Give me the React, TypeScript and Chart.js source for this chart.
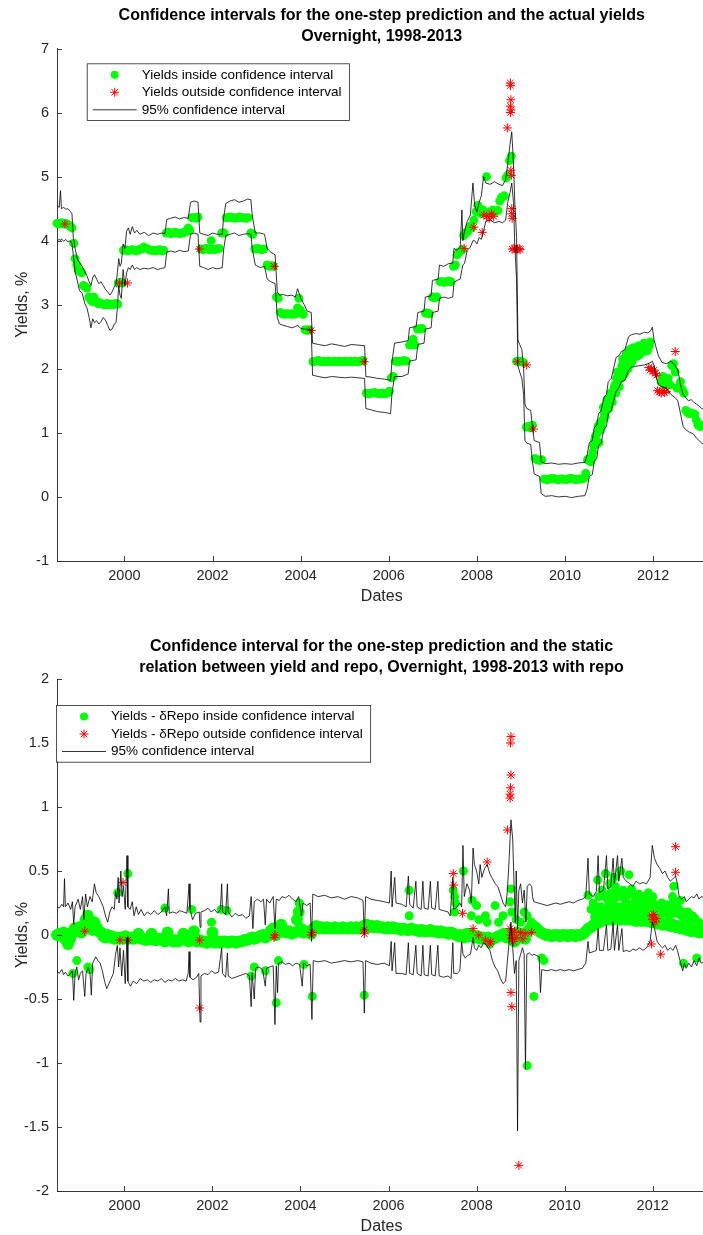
import { useEffect, useRef } from 'react';
import { Chart, registerables } from 'chart.js';

Chart.register(...registerables);

const FONT = '"Liberation Sans", Arial, Helvetica, sans-serif';
const AXIS_COLOR = '#262626';

const X_MIN = 1998.47;
const X_MAX = 2013.21;
const X_TICKS = [2000, 2002, 2004, 2006, 2008, 2010, 2012];
const TOP_Y_TICKS = [-1, 0, 1, 2, 3, 4, 5, 6, 7];
const BOT_Y_TICKS = [-2, -1.5, -1, -0.5, 0, 0.5, 1, 1.5, 2];

const TOP_TITLE = [
  'Confidence intervals for the one-step prediction and the actual yields',
  'Overnight, 1998-2013',
];
const BOT_TITLE = [
  'Confidence interval for the one-step prediction and the static',
  'relation between yield and repo, Overnight, 1998-2013 with repo',
];
const TOP_LEGEND = [
  'Yields inside confidence interval',
  'Yields outside confidence interval',
  '95% confidence interval',
];
const BOT_LEGEND = [
  'Yields - \u03b4Repo inside confidence interval',
  'Yields - \u03b4Repo outside confidence interval',
  '95% confidence interval',
];
const X_LABEL = 'Dates';
const Y_LABEL = 'Yields, %';

// ---------------- Top chart data ----------------
const TOP_INSIDE: number[][] = [
  [1998.47,4.27],[1998.52,4.26],[1998.57,4.28],[1998.62,4.26],[1998.67,4.27],[1998.72,4.25],[1998.77,4.23],[1998.81,4.2],
  [1998.85,3.96],[1998.88,3.72],[1998.92,3.62],[1998.95,3.54],[1998.99,3.52],[1999.03,3.5],[1999.07,3.3],[1999.11,3.28],
  [1999.15,3.26],[1999.19,3.12],[1999.23,3.08],[1999.27,3.05],[1999.31,3.12],[1999.35,3.06],[1999.4,3.02],[1999.45,3.03],
  [1999.5,3.01],[1999.55,3.0],[1999.6,3.02],[1999.65,3.0],[1999.7,3.01],[1999.75,3.0],[1999.8,3.02],[1999.85,3.01],
  [1999.86,3.34],[1999.91,3.35],[1999.95,3.34],
  [1999.98,3.85],[2000.03,3.86],[2000.08,3.84],[2000.13,3.85],[2000.18,3.86],[2000.23,3.85],[2000.28,3.84],[2000.33,3.86],
  [2000.38,3.87],[2000.44,3.9],[2000.5,3.88],[2000.55,3.86],[2000.6,3.85],[2000.65,3.85],[2000.7,3.84],[2000.75,3.85],
  [2000.8,3.86],[2000.85,3.84],[2000.89,3.85],
  [2000.95,4.12],[2001.0,4.13],[2001.05,4.11],[2001.1,4.12],[2001.15,4.13],[2001.2,4.12],[2001.25,4.11],[2001.3,4.12],
  [2001.35,4.13],[2001.4,4.14],[2001.45,4.2],[2001.48,4.16],
  [2001.53,4.36],[2001.58,4.36],[2001.63,4.35],[2001.67,4.37],
  [2001.74,3.87],[2001.79,3.86],[2001.84,3.88],[2001.89,3.87],[2001.94,3.86],[2001.97,4.0],[2002.0,3.87],[2002.05,3.86],
  [2002.1,3.87],[2002.15,3.88],
  [2002.21,4.12],[2002.26,4.12],
  [2002.31,4.36],[2002.36,4.36],[2002.41,4.37],[2002.46,4.36],[2002.51,4.35],[2002.56,4.36],[2002.61,4.37],[2002.66,4.36],
  [2002.71,4.36],[2002.76,4.35],[2002.81,4.36],
  [2002.87,4.12],[2002.91,4.1],
  [2002.96,3.87],[2003.01,3.88],[2003.06,3.87],[2003.11,3.86],[2003.16,3.87],
  [2003.24,3.62],[2003.29,3.6],[2003.34,3.61],[2003.38,3.6],
  [2003.45,3.12],[2003.49,3.1],
  [2003.54,2.88],[2003.59,2.86],[2003.64,2.85],[2003.69,2.86],[2003.74,2.85],[2003.79,2.86],[2003.84,2.85],[2003.89,2.86],
  [2003.93,2.95],[2003.96,3.1],[2003.99,2.92],[2004.03,2.86],[2004.06,2.85],
  [2004.1,2.61],[2004.15,2.6],[2004.19,2.61],
  [2004.28,2.11],[2004.34,2.12],[2004.4,2.13],[2004.46,2.11],[2004.52,2.12],[2004.58,2.11],[2004.64,2.12],[2004.7,2.11],
  [2004.76,2.12],[2004.82,2.11],[2004.88,2.12],[2004.94,2.11],[2005.0,2.12],[2005.06,2.11],[2005.12,2.12],[2005.18,2.11],
  [2005.24,2.12],[2005.3,2.11],[2005.36,2.12],[2005.41,2.13],
  [2005.49,1.62],[2005.55,1.61],[2005.61,1.62],[2005.67,1.63],[2005.73,1.62],[2005.79,1.61],[2005.85,1.62],[2005.91,1.61],
  [2005.97,1.62],[2006.01,1.65],
  [2006.06,1.86],[2006.1,1.88],
  [2006.15,2.12],[2006.2,2.11],[2006.25,2.12],[2006.3,2.12],[2006.35,2.13],[2006.4,2.12],
  [2006.47,2.37],[2006.51,2.38],[2006.55,2.46],[2006.59,2.37],
  [2006.65,2.62],[2006.7,2.62],[2006.75,2.63],
  [2006.83,2.87],[2006.88,2.87],[2006.92,2.86],
  [2006.99,3.12],[2007.04,3.11],[2007.09,3.12],
  [2007.16,3.36],[2007.21,3.36],[2007.26,3.35],[2007.31,3.36],[2007.36,3.37],[2007.41,3.36],
  [2007.47,3.6],[2007.51,3.62],[2007.55,3.78],[2007.59,3.82],[2007.63,3.84],[2007.67,3.86],[2007.7,4.08],[2007.74,4.12],
  [2007.79,4.14],[2007.84,4.22],[2007.88,4.2],[2007.93,4.32],[2007.98,4.45],[2008.02,4.55],[2008.06,4.5],[2008.1,4.42],
  [2008.14,4.48],[2008.22,5.0],[2008.3,4.45],[2008.36,4.48],[2008.42,4.45],[2008.48,4.47],[2008.52,4.62],[2008.56,4.68],
  [2008.62,4.7],[2008.66,4.98],[2008.7,5.02],[2008.74,5.25],[2008.78,5.32],
  [2008.9,2.12],[2008.95,2.11],[2009.0,2.12],[2009.05,2.1],
  [2009.12,1.09],[2009.17,1.1],[2009.22,1.08],[2009.26,1.12],
  [2009.32,0.6],[2009.37,0.58],[2009.42,0.57],[2009.47,0.58],
  [2009.53,0.28],[2009.59,0.27],[2009.65,0.28],[2009.71,0.29],[2009.77,0.28],[2009.83,0.27],[2009.89,0.28],[2009.95,0.28],
  [2010.01,0.27],[2010.07,0.28],[2010.13,0.29],[2010.19,0.28],[2010.25,0.27],[2010.31,0.28],[2010.37,0.28],[2010.43,0.29],
  [2010.47,0.37],[2010.51,0.58],[2010.56,0.6],[2010.61,0.62],[2010.65,0.8],[2010.69,0.95],[2010.73,1.0],[2010.77,0.85],
  [2010.81,1.05],[2010.85,1.2],[2010.89,1.3],[2010.93,1.35],[2010.97,1.45],[2011.01,1.5],[2011.05,1.55],[2011.09,1.62],
  [2011.13,1.75],[2011.17,1.85],[2011.21,1.82],[2011.25,1.95],[2011.29,2.05],[2011.33,2.0],[2011.37,2.1],[2011.41,2.15],
  [2011.45,2.08],[2011.49,2.2],[2011.53,2.25],[2011.57,2.18],[2011.61,2.3],[2011.65,2.28],[2011.69,2.22],[2011.73,2.33],
  [2011.77,2.35],[2011.81,2.3],[2011.85,2.32],[2011.89,2.38],[2011.93,2.42],
  [2010.58,0.55],[2010.63,0.7],[2010.67,0.88],[2010.71,0.82],[2010.75,1.1],[2010.79,1.15],[2010.83,1.1],[2010.87,1.4],
  [2010.91,1.25],[2010.95,1.52],[2010.99,1.38],[2011.03,1.62],[2011.07,1.48],[2011.11,1.7],[2011.15,1.62],[2011.19,1.95],
  [2011.23,1.72],[2011.27,1.86],[2011.31,2.15],[2011.35,1.92],[2011.39,2.24],[2011.43,2.0],[2011.47,2.3],[2011.51,2.1],
  [2011.55,2.33],[2011.59,2.24],[2011.63,2.2],[2011.67,2.36],[2011.71,2.3],[2011.75,2.26],[2011.79,2.4],[2011.83,2.38],
  [2011.87,2.28],[2011.91,2.36],
  [2012.18,1.8],[2012.22,1.88],[2012.26,1.75],[2012.3,1.8],[2012.34,1.85],[2012.38,1.75],[2012.42,2.05],[2012.46,2.08],
  [2012.5,1.95],[2012.54,1.7],[2012.58,1.72],[2012.62,1.8],[2012.66,1.68],[2012.7,1.62],[2012.74,1.35],[2012.78,1.32],
  [2012.82,1.3],[2012.86,1.31],[2012.9,1.3],[2012.94,1.29],[2012.98,1.2],[2013.02,1.12],[2013.06,1.1],[2013.1,1.12],
];

const TOP_OUTSIDE: number[][] = [
  [1998.65,4.26],[1999.89,3.34],[2000.07,3.34],[2001.7,3.87],[2003.4,3.6],[2004.24,2.6],[2005.44,2.11],
  [2007.71,3.88],[2007.93,4.21],[2008.12,4.13],[2008.16,4.4],[2008.22,4.38],[2008.28,4.35],[2008.33,4.42],[2008.38,4.38],
  [2008.69,5.76],[2008.76,6.46],[2008.76,6.42],[2008.77,6.2],[2008.76,6.1],[2008.77,6.04],[2008.76,6.0],[2008.77,5.1],
  [2008.78,5.02],[2008.79,4.5],[2008.79,4.42],[2008.8,4.35],[2008.8,3.87],[2008.84,3.88],[2008.88,3.86],[2008.92,3.87],
  [2008.96,3.88],[2008.98,3.86],[2008.92,2.11],[2009.13,2.06],[2009.28,1.06],
  [2011.9,2.02],[2011.93,1.98],[2011.96,2.0],[2011.99,1.96],[2012.02,1.98],[2012.05,1.93],[2012.08,1.9],[2012.1,1.66],
  [2012.14,1.64],[2012.18,1.62],[2012.22,1.66],[2012.26,1.63],[2012.3,1.65],[2012.5,2.27],
];

// [date, upper bound, lower bound]
const TOP_CI: number[][] = [
  [1998.47,4.55,4.0],[1998.52,4.52,4.02],[1998.55,4.78,4.0],[1998.57,4.5,4.03],[1998.62,4.52,3.99],[1998.67,4.49,4.02],
  [1998.72,4.5,3.98],[1998.77,4.46,4.0],[1998.81,4.42,3.95],[1998.84,4.05,3.78],[1998.88,3.88,3.52],[1998.93,3.72,3.38],
  [1998.98,3.66,3.22],[1999.04,3.6,3.18],[1999.1,3.52,3.02],[1999.15,3.45,2.95],[1999.2,3.36,2.8],[1999.24,3.3,2.64],
  [1999.28,3.42,2.78],[1999.32,3.47,2.72],[1999.37,3.4,2.75],[1999.42,3.33,2.7],[1999.47,3.36,2.74],[1999.52,3.3,2.8],
  [1999.57,3.24,2.76],[1999.62,3.2,2.68],[1999.67,3.15,2.6],[1999.72,3.2,2.62],[1999.77,3.28,2.7],[1999.81,3.32,2.72],
  [1999.84,3.5,2.95],[1999.87,3.72,3.3],[1999.9,3.6,3.15],[1999.93,3.65,3.1],[1999.97,3.95,3.55],[2000.01,3.88,3.3],
  [2000.05,4.15,3.5],[2000.09,4.2,3.58],[2000.13,4.1,3.55],[2000.18,4.22,3.62],[2000.23,4.12,3.55],[2000.28,4.16,3.58],
  [2000.35,4.1,3.55],[2000.45,4.13,3.57],[2000.55,4.08,3.56],[2000.65,4.12,3.58],[2000.75,4.1,3.55],[2000.85,4.12,3.57],
  [2000.92,4.11,3.58],[2000.96,4.33,3.82],[2001.05,4.35,3.84],[2001.15,4.37,3.82],[2001.25,4.34,3.85],[2001.35,4.36,3.83],
  [2001.45,4.35,3.84],[2001.5,4.6,4.1],[2001.58,4.62,4.12],[2001.67,4.6,4.1],[2001.71,4.12,3.6],[2001.8,4.1,3.58],
  [2001.9,4.08,3.55],[2002.0,4.12,3.58],[2002.1,4.1,3.56],[2002.22,4.1,3.58],[2002.25,4.35,3.85],[2002.3,4.58,4.08],
  [2002.4,4.62,4.1],[2002.5,4.64,4.12],[2002.6,4.6,4.08],[2002.7,4.62,4.1],[2002.8,4.65,4.11],[2002.87,4.64,4.1],
  [2002.9,4.4,3.88],[2002.97,4.12,3.62],[2003.08,4.12,3.58],[2003.18,4.1,3.6],[2003.24,3.88,3.4],[2003.32,3.82,3.36],
  [2003.42,3.78,3.33],[2003.47,3.2,2.8],[2003.52,3.15,2.7],[2003.6,3.16,2.68],[2003.7,3.14,2.66],[2003.8,3.15,2.64],
  [2003.88,3.12,2.66],[2003.93,3.25,2.68],[2004.0,3.1,2.63],[2004.08,3.0,2.62],[2004.15,2.9,2.62],[2004.24,2.88,2.6],
  [2004.27,2.4,1.9],[2004.4,2.38,1.88],[2004.55,2.36,1.86],[2004.7,2.39,1.88],[2004.85,2.37,1.87],[2005.0,2.35,1.86],
  [2005.15,2.38,1.87],[2005.3,2.37,1.86],[2005.45,2.36,1.85],[2005.48,1.88,1.38],[2005.6,1.87,1.36],[2005.75,1.85,1.33],
  [2005.9,1.84,1.32],[2006.04,1.82,1.3],[2006.07,2.1,1.6],[2006.13,2.4,1.88],[2006.3,2.42,1.88],[2006.44,2.44,1.92],
  [2006.47,2.64,2.12],[2006.62,2.66,2.14],[2006.66,2.88,2.38],[2006.8,2.9,2.4],[2006.83,3.12,2.62],[2006.96,3.14,2.64],
  [2006.99,3.38,2.88],[2007.12,3.4,2.9],[2007.15,3.62,3.1],[2007.25,3.6,3.12],[2007.35,3.64,3.1],[2007.45,3.65,3.12],
  [2007.48,3.88,3.35],[2007.55,3.85,3.38],[2007.62,3.9,3.4],[2007.66,4.48,3.55],[2007.68,4.0,3.62],[2007.72,4.15,3.65],
  [2007.78,4.3,3.85],[2007.85,4.4,3.9],[2007.91,4.9,4.0],[2007.95,4.55,4.0],[2008.0,4.45,3.95],[2008.05,4.6,4.05],
  [2008.1,4.7,4.02],[2008.15,5.0,4.15],[2008.2,4.9,4.3],[2008.3,4.88,4.32],[2008.4,4.92,4.28],[2008.5,4.88,4.3],
  [2008.58,4.86,4.28],[2008.65,4.95,4.32],[2008.7,5.2,4.6],[2008.75,5.5,4.75],[2008.79,5.7,4.9],[2008.83,5.2,4.6],
  [2008.86,4.6,3.9],[2008.9,4.05,3.4],[2008.93,2.45,2.05],[2008.97,2.38,1.95],[2009.02,2.3,1.85],[2009.06,2.0,1.6],
  [2009.09,1.45,0.88],[2009.13,1.38,0.84],[2009.22,1.35,0.82],[2009.26,1.1,0.55],[2009.3,0.88,0.36],[2009.42,0.85,0.32],
  [2009.46,0.55,0.05],[2009.55,0.52,0.01],[2009.7,0.53,0.02],[2009.85,0.51,0.0],[2010.0,0.52,0.01],[2010.15,0.51,-0.01],
  [2010.3,0.53,0.01],[2010.45,0.54,0.02],[2010.5,0.65,0.12],[2010.55,0.85,0.32],[2010.62,0.88,0.35],[2010.66,1.08,0.55],
  [2010.72,1.12,0.6],[2010.76,1.3,0.8],[2010.82,1.35,0.85],[2010.88,1.55,1.05],[2010.94,1.6,1.1],[2010.98,1.8,1.3],
  [2011.05,1.85,1.35],[2011.1,2.0,1.5],[2011.16,2.18,1.65],[2011.22,2.2,1.7],[2011.28,2.27,1.8],[2011.36,2.3,1.82],
  [2011.44,2.5,1.98],[2011.5,2.53,2.02],[2011.6,2.55,2.04],[2011.7,2.54,2.05],[2011.8,2.57,2.06],[2011.88,2.56,2.08],
  [2011.95,2.6,2.1],[2011.98,2.65,2.12],[2012.02,2.45,2.05],[2012.06,2.35,1.9],[2012.12,2.2,1.75],[2012.2,2.1,1.72],
  [2012.3,2.08,1.7],[2012.4,2.12,1.6],[2012.5,2.05,1.55],[2012.56,1.98,1.5],[2012.62,1.75,1.3],[2012.68,1.6,1.1],
  [2012.74,1.55,1.05],[2012.8,1.5,1.02],[2012.86,1.52,1.0],[2012.92,1.48,0.98],[2012.98,1.45,0.92],[2013.04,1.42,0.88],
  [2013.1,1.38,0.84],[2013.21,1.35,0.8],
];

// ---------------- Bottom chart data ----------------
const BOT_INSIDE_BAND: number[][] = [
  [1998.47,0.0],[1998.52,0.01],[1998.57,-0.01],[1998.62,0.02],[1998.67,-0.04],[1998.72,-0.07],[1998.77,-0.03],[1998.82,0.02],
  [1998.87,0.05],[1998.92,0.03],[1998.97,0.06],[1999.02,0.02],[1999.07,0.05],[1999.12,0.12],[1999.17,0.15],[1999.22,0.08],
  [1999.27,0.04],[1999.32,0.1],[1999.37,0.06],[1999.42,0.03],[1999.47,0.02],[1999.52,-0.01],[1999.57,-0.02],[1999.62,0.0],
  [1999.67,-0.02],[1999.72,-0.01],[1999.77,-0.03],[1999.82,-0.02],[1999.87,-0.03],[1999.92,-0.02],[1999.97,-0.03],[2000.02,-0.01],
  [2000.08,-0.03],[2000.14,-0.02],[2000.2,-0.03],[2000.26,-0.02],[2000.32,0.01],[2000.38,-0.03],[2000.44,-0.03],[2000.5,-0.04],
  [2000.56,-0.03],[2000.62,0.01],[2000.68,-0.04],[2000.74,-0.04],[2000.8,-0.03],[2000.86,-0.04],[2000.92,-0.05],[2000.98,0.02],
  [2001.04,-0.04],[2001.1,-0.05],[2001.16,-0.04],[2001.22,-0.05],[2001.28,-0.04],[2001.34,0.01],[2001.4,-0.04],[2001.46,-0.05],
  [2001.52,-0.04],[2001.58,0.03],[2001.64,-0.05],[2001.7,-0.04],[2001.76,-0.05],[2001.82,-0.05],[2001.88,-0.06],[2001.94,-0.05],
  [2002.0,0.02],[2002.06,-0.06],[2002.12,-0.05],[2002.18,-0.06],[2002.24,-0.05],[2002.3,-0.05],[2002.36,-0.06],[2002.42,-0.05],
  [2002.48,-0.05],[2002.54,-0.06],[2002.6,-0.05],[2002.66,-0.05],[2002.72,-0.04],[2002.78,-0.04],[2002.84,-0.03],[2002.9,-0.02],
  [2002.96,-0.03],[2003.02,-0.02],[2003.08,-0.01],[2003.14,0.0],[2003.2,-0.02],[2003.26,0.0],[2003.32,0.03],[2003.38,0.05],
  [2003.44,0.0],[2003.5,0.02],[2003.56,0.08],[2003.62,0.04],[2003.68,0.02],[2003.74,0.03],[2003.8,0.01],[2003.86,0.02],
  [2003.92,0.12],[2003.96,0.18],[2004.0,0.05],[2004.06,0.02],[2004.12,0.03],[2004.18,0.02],[2004.24,0.01],[2004.3,0.05],
  [2004.36,0.07],[2004.42,0.05],[2004.48,0.06],[2004.54,0.05],[2004.6,0.06],[2004.66,0.05],[2004.72,0.05],[2004.78,0.06],
  [2004.84,0.05],[2004.9,0.05],[2004.96,0.06],[2005.02,0.05],[2005.08,0.05],[2005.14,0.06],[2005.2,0.05],[2005.26,0.06],
  [2005.32,0.05],[2005.38,0.06],[2005.44,0.07],[2005.5,0.08],[2005.56,0.06],[2005.62,0.07],[2005.68,0.06],[2005.74,0.07],
  [2005.8,0.06],[2005.86,0.06],[2005.92,0.05],[2005.98,0.06],[2006.04,0.05],[2006.1,0.06],[2006.16,0.05],[2006.22,0.05],
  [2006.28,0.04],[2006.34,0.05],[2006.4,0.04],[2006.46,0.04],[2006.52,0.05],[2006.58,0.04],[2006.64,0.04],[2006.7,0.03],
  [2006.76,0.04],[2006.82,0.03],[2006.88,0.03],[2006.94,0.04],[2007.0,0.03],[2007.06,0.03],[2007.12,0.02],[2007.18,0.03],
  [2007.24,0.02],[2007.3,0.02],[2007.36,0.01],[2007.42,0.02],[2007.48,0.01],[2007.54,0.0],[2007.6,-0.01],[2007.66,0.0],
  [2007.72,-0.02],[2007.78,0.01],[2007.84,-0.01],[2007.9,0.0],[2007.96,-0.02],[2008.02,-0.01],[2008.08,-0.03],[2008.14,-0.02],
  [2008.2,-0.03],[2008.26,-0.02],[2008.32,-0.04],[2008.38,-0.03],[2008.44,-0.02],[2008.5,-0.01],[2008.56,0.0],[2008.62,0.01],
  [2008.68,-0.02],[2008.74,0.0],[2008.8,-0.03],[2008.86,-0.05],[2008.92,0.02],[2008.98,-0.02],[2009.04,0.01],[2009.1,-0.03],
  [2009.16,0.03],[2009.22,0.05],[2009.28,0.07],[2009.34,0.06],[2009.4,0.04],[2009.46,0.02],[2009.52,0.01],[2009.58,0.0],
  [2009.64,0.0],[2009.7,-0.01],[2009.76,0.0],[2009.82,0.0],[2009.88,-0.01],[2009.94,0.0],[2010.0,0.0],[2010.06,-0.01],
  [2010.12,0.0],[2010.18,0.0],[2010.24,-0.01],[2010.3,0.0],[2010.36,0.0],[2010.42,0.01],[2010.48,0.03],[2010.54,0.05],
  [2010.6,0.06],[2010.66,0.08],[2010.72,0.09],[2010.78,0.1],[2010.84,0.11],[2010.9,0.12],[2010.96,0.12],[2011.02,0.13],
  [2011.08,0.12],[2011.14,0.14],[2011.2,0.13],[2011.26,0.12],[2011.32,0.14],[2011.38,0.12],[2011.44,0.13],[2011.5,0.12],
  [2011.56,0.13],[2011.62,0.11],[2011.68,0.12],[2011.74,0.11],[2011.8,0.12],[2011.86,0.11],[2011.92,0.12],[2011.98,0.1],
  [2012.04,0.1],[2012.1,0.09],[2012.16,0.1],[2012.22,0.08],[2012.28,0.09],[2012.34,0.08],[2012.4,0.07],[2012.46,0.08],
  [2012.52,0.06],[2012.58,0.07],[2012.64,0.05],[2012.7,0.06],[2012.76,0.04],[2012.82,0.05],[2012.88,0.03],[2012.94,0.04],
  [2013.0,0.03],[2013.06,0.02],[2013.12,0.03],[2013.18,0.02],
];

const BOT_INSIDE_SCATTER: number[][] = [
  [1998.83,-0.3],[1998.92,-0.2],[1999.17,-0.25],[1999.21,-0.27],[1999.85,0.33],[2000.08,0.48],[2000.92,0.21],[2001.53,0.2],
  [2001.98,0.1],[2002.2,0.2],[2002.33,0.19],[2002.88,-0.32],[2002.95,-0.25],[2003.2,-0.28],[2003.45,-0.53],[2003.5,-0.2],
  [2003.97,0.25],[2004.08,-0.23],[2004.27,-0.48],[2005.45,-0.47],
  [2006.47,0.35],[2006.47,0.15],[2007.47,0.35],[2007.5,0.3],[2007.52,0.25],[2007.5,0.18],[2007.7,0.5],[2007.9,0.27],
  [2007.88,0.15],[2008.0,0.23],[2008.05,0.12],[2008.2,0.15],[2008.24,0.1],[2008.42,0.23],[2008.5,0.1],[2008.6,0.15],
  [2008.76,0.26],[2008.78,0.36],[2008.8,0.18],[2008.9,0.12],[2009.0,0.1],[2009.08,0.18],[2009.15,0.15],[2009.25,0.1],
  [2008.3,-0.07],[2009.15,-1.02],[2009.3,-0.48],[2009.48,-0.18],[2009.53,-0.2],
  [2010.53,0.31],[2010.6,0.2],[2010.65,0.25],[2010.7,0.18],[2010.75,0.43],[2010.78,0.3],[2010.82,0.22],[2010.85,0.35],
  [2010.9,0.3],[2010.93,0.48],[2010.95,0.2],[2011.0,0.25],[2011.02,0.4],[2011.05,0.33],[2011.08,0.2],[2011.12,0.45],
  [2011.12,0.28],[2011.15,0.38],[2011.2,0.22],[2011.25,0.3],[2011.27,0.5],[2011.28,0.18],[2011.33,0.35],[2011.38,0.25],
  [2011.42,0.2],[2011.45,0.32],[2011.46,0.47],[2011.5,0.24],[2011.55,0.18],[2011.6,0.3],[2011.65,0.22],[2011.7,0.27],
  [2011.75,0.2],[2011.8,0.3],[2011.85,0.17],[2011.9,0.33],[2011.92,0.26],[2011.95,0.22],[2012.0,0.3],[2012.05,0.2],
  [2012.09,0.22],[2012.12,0.18],[2012.2,0.25],[2012.25,0.2],[2012.3,0.18],[2012.35,0.16],[2012.4,0.2],[2012.45,0.3],
  [2012.48,0.38],[2012.55,0.22],[2012.6,0.2],[2012.63,0.27],[2012.65,0.15],[2012.7,-0.22],[2012.75,0.12],[2012.8,0.18],
  [2012.85,0.1],[2012.9,0.15],[2012.96,0.13],[2013.0,-0.18],[2013.05,0.1],
  [2010.68,0.14],[2010.74,0.22],[2010.8,0.16],[2010.87,0.2],[2010.92,0.17],[2010.98,0.28],[2011.03,0.2],[2011.1,0.24],
  [2011.17,0.19],[2011.22,0.33],[2011.3,0.22],[2011.36,0.19],[2011.4,0.3],[2011.48,0.2],[2011.52,0.36],[2011.58,0.24],
  [2011.63,0.17],[2011.68,0.32],[2011.72,0.2],[2011.78,0.24],[2011.83,0.2],[2011.88,0.22],[2012.02,0.25],[2012.14,0.22],
  [2012.22,0.17],[2012.28,0.24],[2012.38,0.15],[2012.42,0.24],[2012.52,0.17],[2012.58,0.26],[2012.68,0.18],[2012.78,0.14],
];

const BOT_OUTSIDE: number[][] = [
  [1999.1,0.03],[1999.97,0.41],[1999.9,-0.04],[2000.08,-0.04],[2001.71,-0.04],[2001.71,-0.57],[2003.4,-0.02],[2003.42,0.0],
  [2004.25,0.0],[2004.27,0.02],[2005.45,0.01],[2005.45,0.04],[2007.47,0.48],[2007.48,0.39],[2007.68,0.17],[2007.92,0.05],
  [2008.05,0.0],[2008.24,0.57],[2008.2,-0.04],[2008.3,-0.07],[2008.32,-0.05],[2008.7,0.82],[2008.76,1.07],[2008.76,1.1],
  [2008.77,1.15],[2008.78,1.25],[2008.77,1.5],[2008.78,1.55],[2008.78,-0.45],[2008.8,-0.56],[2008.76,0.05],[2008.78,0.0],
  [2008.8,-0.03],[2008.82,0.02],[2008.84,-0.05],[2008.86,0.03],[2008.9,-0.02],[2008.96,-1.8],[2009.0,0.02],[2009.05,-0.03],
  [2009.1,0.01],[2009.25,0.02],[2011.97,-0.07],[2011.98,0.15],[2012.0,0.12],[2012.02,0.16],[2012.05,0.1],[2012.08,0.13],
  [2012.18,-0.15],[2012.52,0.69],[2012.52,0.49],
];

const BOT_UPPER: number[][] = [
  [1998.47,0.22],[1998.52,0.21],[1998.58,0.24],[1998.62,0.22],[1998.64,0.44],[1998.66,0.22],[1998.72,0.25],[1998.78,0.2],
  [1998.82,0.26],[1998.85,0.08],[1998.88,0.22],[1998.95,0.28],[1999.0,0.2],[1999.05,0.3],[1999.08,0.12],[1999.12,0.32],
  [1999.16,0.22],[1999.22,0.3],[1999.27,0.26],[1999.32,0.4],[1999.36,0.33],[1999.42,0.3],[1999.47,0.26],[1999.52,0.22],
  [1999.57,0.15],[1999.62,0.1],[1999.67,0.18],[1999.72,0.22],[1999.77,0.2],[1999.8,0.34],[1999.83,0.28],[1999.86,0.45],
  [1999.88,0.25],[1999.92,0.5],[1999.95,0.3],[1999.98,0.38],[2000.02,0.2],[2000.06,0.62],[2000.08,0.22],[2000.13,0.2],
  [2000.18,0.26],[2000.22,0.15],[2000.27,0.22],[2000.32,0.16],[2000.38,0.2],[2000.45,0.15],[2000.52,0.18],[2000.6,0.16],
  [2000.68,0.19],[2000.76,0.16],[2000.84,0.18],[2000.92,0.22],[2000.96,0.15],[2001.0,0.36],[2001.02,0.17],[2001.1,0.18],
  [2001.18,0.17],[2001.26,0.19],[2001.34,0.18],[2001.42,0.17],[2001.47,0.4],[2001.49,0.2],[2001.55,0.12],[2001.62,0.17],
  [2001.7,0.18],[2001.72,0.06],[2001.74,0.18],[2001.82,0.19],[2001.9,0.21],[2001.97,0.18],[2002.05,0.2],[2002.12,0.17],
  [2002.18,0.2],[2002.21,0.4],[2002.23,0.18],[2002.3,0.16],[2002.34,0.4],[2002.36,0.18],[2002.44,0.14],[2002.52,0.17],
  [2002.6,0.15],[2002.68,0.16],[2002.76,0.13],[2002.84,0.15],[2002.88,0.3],[2002.92,0.05],[2002.95,0.26],[2003.02,0.28],
  [2003.1,0.26],[2003.16,0.28],[2003.2,0.08],[2003.23,0.28],[2003.3,0.25],[2003.38,0.3],[2003.42,0.05],[2003.45,0.28],
  [2003.52,0.27],[2003.58,0.3],[2003.66,0.29],[2003.74,0.31],[2003.82,0.28],[2003.9,0.26],[2003.96,0.3],[2004.02,0.15],
  [2004.06,0.25],[2004.14,0.23],[2004.22,0.25],[2004.25,-0.05],[2004.28,0.32],[2004.4,0.3],[2004.55,0.31],[2004.7,0.29],
  [2004.85,0.3],[2005.0,0.28],[2005.15,0.3],[2005.3,0.29],[2005.42,0.27],[2005.45,0.0],[2005.48,0.3],[2005.6,0.28],
  [2005.75,0.27],[2005.9,0.26],[2006.02,0.25],[2006.06,0.5],[2006.08,0.22],[2006.14,0.45],[2006.17,0.25],[2006.3,0.24],
  [2006.4,0.22],[2006.45,0.46],[2006.48,0.24],[2006.56,0.21],[2006.62,0.42],[2006.65,0.22],[2006.74,0.2],[2006.78,0.42],
  [2006.81,0.21],[2006.9,0.2],[2006.95,0.42],[2006.98,0.21],[2007.06,0.2],[2007.12,0.42],[2007.15,0.2],[2007.25,0.19],
  [2007.35,0.18],[2007.4,0.15],[2007.46,0.45],[2007.48,0.2],[2007.56,0.22],[2007.62,0.25],[2007.66,0.22],[2007.69,0.7],
  [2007.72,0.3],[2007.78,0.4],[2007.84,0.35],[2007.88,0.25],[2007.92,0.68],[2007.95,0.55],[2008.0,0.5],[2008.05,0.4],
  [2008.08,0.55],[2008.12,0.45],[2008.18,0.52],[2008.24,0.55],[2008.3,0.48],[2008.36,0.44],[2008.42,0.4],[2008.48,0.38],
  [2008.54,0.32],[2008.6,0.25],[2008.66,0.22],[2008.7,0.35],[2008.74,0.6],[2008.78,0.9],[2008.82,0.75],[2008.85,0.4],
  [2008.88,0.1],[2008.9,0.5],[2008.93,0.05],[2008.96,0.35],[2009.0,0.4],[2009.04,0.25],[2009.08,0.35],[2009.12,0.1],
  [2009.15,0.38],[2009.2,0.4],[2009.25,0.38],[2009.27,0.3],[2009.3,0.26],[2009.4,0.25],[2009.5,0.24],[2009.6,0.23],
  [2009.7,0.24],[2009.8,0.25],[2009.9,0.24],[2010.0,0.25],[2010.1,0.26],[2010.2,0.25],[2010.3,0.27],[2010.4,0.28],
  [2010.48,0.3],[2010.53,0.6],[2010.56,0.32],[2010.65,0.3],[2010.72,0.34],[2010.76,0.62],[2010.79,0.33],[2010.88,0.35],
  [2010.95,0.62],[2010.98,0.36],[2011.05,0.38],[2011.1,0.6],[2011.13,0.4],[2011.2,0.62],[2011.23,0.42],[2011.3,0.6],
  [2011.33,0.45],[2011.4,0.42],[2011.48,0.4],[2011.55,0.38],[2011.62,0.42],[2011.7,0.4],[2011.78,0.41],[2011.86,0.4],
  [2011.94,0.45],[2011.99,0.7],[2012.04,0.6],[2012.1,0.55],[2012.16,0.52],[2012.22,0.48],[2012.28,0.5],[2012.34,0.45],
  [2012.4,0.42],[2012.46,0.44],[2012.52,0.46],[2012.56,0.4],[2012.6,0.3],[2012.66,0.28],[2012.72,0.3],[2012.76,0.26],
  [2012.82,0.28],[2012.88,0.3],[2012.94,0.29],[2013.0,0.32],[2013.05,0.28],[2013.1,0.3],[2013.21,0.29],
];

const BOT_LOWER: number[][] = [
  [1998.47,-0.28],[1998.52,-0.3],[1998.58,-0.27],[1998.62,-0.31],[1998.66,-0.29],[1998.72,-0.32],[1998.78,-0.3],[1998.82,-0.28],
  [1998.85,-0.51],[1998.88,-0.3],[1998.92,-0.25],[1998.96,-0.35],[1999.0,-0.3],[1999.05,-0.28],[1999.1,-0.48],[1999.13,-0.3],
  [1999.18,-0.25],[1999.22,-0.3],[1999.25,-0.47],[1999.28,-0.22],[1999.35,-0.17],[1999.4,-0.2],[1999.45,-0.22],[1999.5,-0.28],
  [1999.55,-0.36],[1999.6,-0.42],[1999.65,-0.38],[1999.7,-0.34],[1999.75,-0.3],[1999.8,-0.15],[1999.84,-0.08],[1999.87,-0.25],
  [1999.9,-0.1],[1999.94,-0.32],[1999.98,-0.12],[2000.02,-0.38],[2000.06,-0.02],[2000.08,-0.36],[2000.14,-0.4],[2000.2,-0.36],
  [2000.28,-0.38],[2000.36,-0.34],[2000.44,-0.36],[2000.52,-0.35],[2000.6,-0.37],[2000.68,-0.35],[2000.76,-0.36],[2000.84,-0.34],
  [2000.92,-0.37],[2001.0,-0.35],[2001.08,-0.36],[2001.16,-0.34],[2001.24,-0.36],[2001.32,-0.35],[2001.4,-0.36],[2001.45,-0.3],
  [2001.47,-0.13],[2001.49,-0.33],[2001.56,-0.35],[2001.64,-0.33],[2001.69,-0.3],[2001.72,-0.68],[2001.74,-0.32],[2001.82,-0.3],
  [2001.9,-0.31],[2001.98,-0.28],[2002.06,-0.3],[2002.14,-0.29],[2002.21,-0.1],[2002.23,-0.3],[2002.3,-0.33],[2002.34,-0.14],
  [2002.36,-0.32],[2002.44,-0.34],[2002.52,-0.33],[2002.6,-0.32],[2002.68,-0.31],[2002.76,-0.3],[2002.84,-0.32],[2002.88,-0.56],
  [2002.9,-0.3],[2002.95,-0.5],[2002.98,-0.26],[2003.06,-0.25],[2003.14,-0.27],[2003.2,-0.4],[2003.23,-0.26],[2003.3,-0.25],
  [2003.38,-0.24],[2003.42,-0.7],[2003.45,-0.24],[2003.48,-0.45],[2003.5,-0.22],[2003.58,-0.21],[2003.66,-0.23],[2003.74,-0.22],
  [2003.82,-0.24],[2003.9,-0.22],[2003.98,-0.23],[2004.04,-0.4],[2004.07,-0.22],[2004.14,-0.24],[2004.22,-0.23],[2004.26,-0.66],
  [2004.29,-0.2],[2004.4,-0.21],[2004.55,-0.2],[2004.7,-0.22],[2004.85,-0.21],[2005.0,-0.2],[2005.15,-0.21],[2005.3,-0.2],
  [2005.42,-0.21],[2005.45,-0.61],[2005.48,-0.2],[2005.6,-0.22],[2005.75,-0.23],[2005.9,-0.22],[2006.02,-0.24],[2006.06,-0.05],
  [2006.08,-0.28],[2006.14,-0.06],[2006.17,-0.3],[2006.3,-0.3],[2006.4,-0.31],[2006.45,-0.06],[2006.48,-0.3],[2006.56,-0.31],
  [2006.62,-0.08],[2006.65,-0.3],[2006.74,-0.32],[2006.78,-0.08],[2006.81,-0.31],[2006.9,-0.32],[2006.95,-0.08],[2006.98,-0.31],
  [2007.06,-0.32],[2007.12,-0.08],[2007.15,-0.32],[2007.25,-0.33],[2007.35,-0.32],[2007.42,-0.34],[2007.46,-0.06],[2007.48,-0.3],
  [2007.56,-0.3],[2007.62,-0.28],[2007.66,-0.05],[2007.69,-0.15],[2007.74,-0.18],[2007.8,-0.16],[2007.86,-0.15],[2007.92,-0.02],
  [2007.95,-0.1],[2008.0,-0.12],[2008.05,-0.08],[2008.1,-0.1],[2008.16,-0.06],[2008.22,-0.08],[2008.3,-0.12],[2008.36,-0.2],
  [2008.42,-0.25],[2008.48,-0.28],[2008.54,-0.34],[2008.6,-0.38],[2008.66,-0.36],[2008.7,-0.2],[2008.74,-0.05],[2008.78,0.1],
  [2008.82,-0.1],[2008.86,-0.3],[2008.9,-0.2],[2008.93,-1.53],[2008.96,-0.2],[2009.0,-0.15],[2009.04,-0.1],[2009.08,-0.15],
  [2009.11,-1.05],[2009.14,-0.15],[2009.2,-0.14],[2009.26,-0.16],[2009.3,-0.15],[2009.36,-0.16],[2009.42,-0.17],[2009.45,-0.45],
  [2009.48,-0.27],[2009.6,-0.28],[2009.7,-0.27],[2009.8,-0.28],[2009.9,-0.27],[2010.0,-0.28],[2010.1,-0.27],[2010.2,-0.28],
  [2010.3,-0.27],[2010.4,-0.26],[2010.48,-0.22],[2010.53,-0.05],[2010.56,-0.14],[2010.65,-0.13],[2010.72,-0.12],[2010.76,0.05],
  [2010.79,-0.12],[2010.88,-0.12],[2010.95,0.08],[2010.98,-0.12],[2011.05,-0.11],[2011.1,0.1],[2011.13,-0.12],[2011.2,0.08],
  [2011.23,-0.12],[2011.3,0.05],[2011.33,-0.13],[2011.4,-0.12],[2011.48,-0.13],[2011.55,-0.11],[2011.62,-0.12],[2011.7,-0.1],
  [2011.78,-0.12],[2011.86,-0.1],[2011.94,-0.05],[2011.99,0.1],[2012.04,0.05],[2012.1,-0.05],[2012.16,-0.08],[2012.22,-0.1],
  [2012.28,-0.08],[2012.34,-0.12],[2012.4,-0.1],[2012.46,-0.12],[2012.52,-0.08],[2012.56,-0.12],[2012.62,-0.2],[2012.68,-0.28],
  [2012.72,-0.22],[2012.76,-0.26],[2012.82,-0.22],[2012.88,-0.25],[2012.94,-0.2],[2013.0,-0.24],[2013.05,-0.18],[2013.1,-0.22],
  [2013.21,-0.2],
];

type Spec = {
  inside: number[][];
  insideBand?: number[][];
  outside: number[][];
  upper: number[][];
  lower: number[][];
  yMin: number;
  yMax: number;
  yTicks: number[];
  title: string[];
  legend: string[];
  legendDx: number;
  legendDy: number;
  padTop: number;
  xHeight: number;
};

const toXY = (arr: number[][]) => arr.map((p) => ({ x: p[0], y: p[1] }));

function drawStar(ctx: CanvasRenderingContext2D, x: number, y: number, r: number) {
  const d = Math.cos(Math.PI / 4) * r;
  ctx.beginPath();
  ctx.moveTo(x - r, y); ctx.lineTo(x + r, y);
  ctx.moveTo(x, y - r); ctx.lineTo(x, y + r);
  ctx.moveTo(x - d, y - d); ctx.lineTo(x + d, y + d);
  ctx.moveTo(x - d, y + d); ctx.lineTo(x + d, y - d);
  ctx.stroke();
}

function makeDecor(spec: Spec) {
  return {
    id: 'decor',
    afterDraw(chart: any) {
      const { ctx, chartArea: a, scales } = chart;
      ctx.save();
      ctx.strokeStyle = AXIS_COLOR;
      ctx.lineWidth = 0.9;
      ctx.beginPath();
      for (const v of X_TICKS) {
        const x = Math.round(scales.x.getPixelForValue(v)) + 0.5;
        ctx.moveTo(x, a.bottom);
        ctx.lineTo(x, a.bottom - 5);
      }
      for (const v of spec.yTicks) {
        const y = Math.round(scales.y.getPixelForValue(v)) + 0.5;
        ctx.moveTo(a.left, y);
        ctx.lineTo(a.left + 5, y);
      }
      ctx.stroke();

      const cx = (a.left + a.right) / 2;
      ctx.fillStyle = '#000';
      ctx.textAlign = 'center';
      ctx.textBaseline = 'middle';
      ctx.font = `bold 16px ${FONT}`;
      ctx.fillText(spec.title[0], cx, a.top - 32.5);
      ctx.fillText(spec.title[1], cx, a.top - 11.5);

      ctx.fillStyle = AXIS_COLOR;
      ctx.font = `16px ${FONT}`;
      ctx.fillText(X_LABEL, cx, a.bottom + 36);
      ctx.save();
      ctx.translate(23, (a.top + a.bottom) / 2);
      ctx.rotate(-Math.PI / 2);
      ctx.fillText(Y_LABEL, 0, 0);
      ctx.restore();

      ctx.font = `13.5px ${FONT}`;
      let tw = 0;
      for (const s of spec.legend) tw = Math.max(tw, ctx.measureText(s).width);
      const lx = a.left + spec.legendDx;
      const ly = a.top + spec.legendDy;
      const lw = 55 + tw + 7.5;
      const lh = 56.7;
      ctx.fillStyle = '#fff';
      ctx.fillRect(lx, ly, lw, lh);
      ctx.strokeStyle = AXIS_COLOR;
      ctx.lineWidth = 0.8;
      ctx.strokeRect(lx + 0.5, ly + 0.5, lw, lh);
      const rows = [ly + 11.5, ly + 29, ly + 46.5];
      ctx.fillStyle = '#00ff00';
      ctx.beginPath();
      ctx.arc(lx + 28, rows[0], 4, 0, Math.PI * 2);
      ctx.fill();
      ctx.strokeStyle = '#ff0000';
      ctx.lineWidth = 1;
      drawStar(ctx, lx + 28, rows[1], 4.5);
      ctx.strokeStyle = '#000';
      ctx.lineWidth = 0.8;
      ctx.beginPath();
      ctx.moveTo(lx + 6, rows[2]);
      ctx.lineTo(lx + 50, rows[2]);
      ctx.stroke();
      ctx.fillStyle = '#000';
      ctx.textAlign = 'left';
      spec.legend.forEach((s, i) => ctx.fillText(s, lx + 55, rows[i]));
      ctx.restore();
    },
  };
}

function makeConfig(spec: Spec): any {
  const lineStyle = {
    showLine: true,
    borderColor: '#000',
    borderWidth: 0.8,
    pointRadius: 0,
    fill: false,
    tension: 0,
    order: 0,
  };
  const greenStyle = {
    pointStyle: 'circle',
    borderWidth: 0,
    pointBorderWidth: 0,
    backgroundColor: '#00ff00',
    borderColor: '#00ff00',
    clip: false,
  };
  const datasets: any[] = [
    { label: 'upper', data: toXY(spec.upper), ...lineStyle },
    { label: 'lower', data: toXY(spec.lower), ...lineStyle },
    {
      label: 'outside',
      data: toXY(spec.outside),
      pointStyle: 'star',
      pointRadius: 4.5,
      borderColor: '#ff0000',
      backgroundColor: '#ff0000',
      pointBorderWidth: 1,
      borderWidth: 1,
      clip: false,
      order: 1,
    },
    { label: 'inside', data: toXY(spec.inside), pointRadius: 4.5, ...greenStyle, order: 2 },
  ];
  if (spec.insideBand) {
    datasets.push({ label: 'insideBand', data: toXY(spec.insideBand), pointRadius: 6, ...greenStyle, order: 3 });
  }
  return {
    type: 'scatter',
    data: { datasets },
    options: {
      animation: false,
      responsive: false,
      devicePixelRatio: 1,
      events: [],
      layout: { padding: { top: spec.padTop, right: 3, left: 0, bottom: 0 } },
      plugins: { legend: { display: false }, tooltip: { enabled: false }, title: { display: false } },
      scales: {
        x: {
          type: 'linear',
          min: X_MIN,
          max: X_MAX,
          afterBuildTicks: (s: any) => { s.ticks = X_TICKS.map((v) => ({ value: v })); },
          afterFit: (s: any) => { s.height = spec.xHeight; },
          grid: { display: false, drawTicks: false },
          border: { display: true, color: AXIS_COLOR, width: 0.9 },
          ticks: {
            color: AXIS_COLOR,
            font: { family: FONT, size: 14.5, lineHeight: 1.2 },
            padding: 6,
            maxRotation: 0,
            autoSkip: false,
            callback: (v: any) => String(v),
          },
        },
        y: {
          type: 'linear',
          min: spec.yMin,
          max: spec.yMax,
          afterBuildTicks: (s: any) => { s.ticks = spec.yTicks.map((v) => ({ value: v })); },
          afterFit: (s: any) => { s.width = 57; },
          grid: { display: false, drawTicks: false },
          border: { display: true, color: AXIS_COLOR, width: 0.9 },
          ticks: {
            color: AXIS_COLOR,
            font: { family: FONT, size: 14.5, lineHeight: 1.2 },
            padding: 8,
            autoSkip: false,
            callback: (v: any) => String(v),
          },
        },
      },
    },
    plugins: [makeDecor(spec)],
  };
}

const TOP_SPEC: Spec = {
  inside: TOP_INSIDE,
  outside: TOP_OUTSIDE,
  upper: TOP_CI.map((r) => [r[0], r[1]]),
  lower: TOP_CI.map((r) => [r[0], r[2]]),
  yMin: -1,
  yMax: 7,
  yTicks: TOP_Y_TICKS,
  title: TOP_TITLE,
  legend: TOP_LEGEND,
  legendDx: 29.7,
  legendDy: 14.8,
  padTop: 48.5,
  xHeight: 59,
};

const BOT_SPEC: Spec = {
  inside: BOT_INSIDE_SCATTER,
  insideBand: BOT_INSIDE_BAND,
  outside: BOT_OUTSIDE,
  upper: BOT_UPPER,
  lower: BOT_LOWER,
  yMin: -2,
  yMax: 2,
  yTicks: BOT_Y_TICKS,
  title: BOT_TITLE,
  legend: BOT_LEGEND,
  legendDx: -1,
  legendDy: 26,
  padTop: 59,
  xHeight: 44,
};

export default function App() {
  const topRef = useRef<HTMLCanvasElement>(null);
  const botRef = useRef<HTMLCanvasElement>(null);
  useEffect(() => {
    const c1 = new Chart(topRef.current as HTMLCanvasElement, makeConfig(TOP_SPEC));
    const c2 = new Chart(botRef.current as HTMLCanvasElement, makeConfig(BOT_SPEC));
    return () => {
      c1.destroy();
      c2.destroy();
    };
  }, []);
  return (
    <div style={{ position: 'absolute', left: 0, top: 0, width: 703, height: 1235, overflow: 'hidden', background: '#fff' }}>
      <canvas ref={topRef} width={712} height={620} style={{ position: 'absolute', left: 0, top: 0, width: 712, height: 620 }} />
      <canvas ref={botRef} width={712} height={615} style={{ position: 'absolute', left: 0, top: 620, width: 712, height: 615 }} />
    </div>
  );
}
